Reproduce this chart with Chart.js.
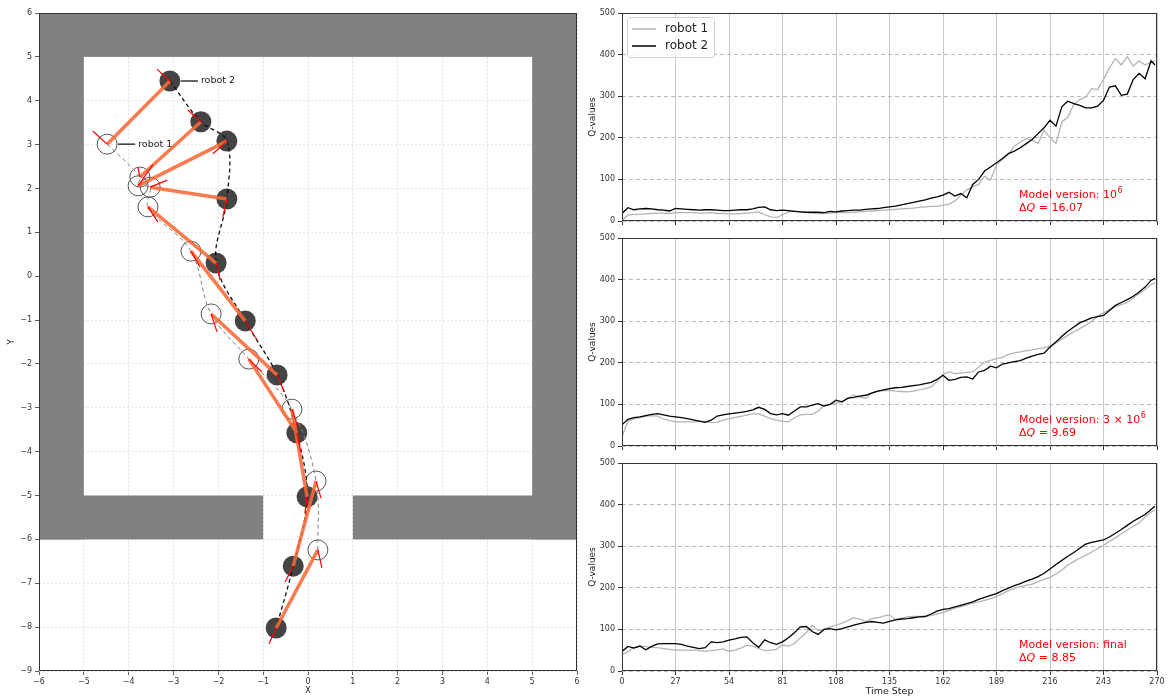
<!DOCTYPE html>
<html>
<head>
<meta charset="utf-8">
<script src="https://cdn.jsdelivr.net/npm/chart.js@4.4.0/dist/chart.umd.min.js"></script>
<style>
  body { margin: 0; background: #fff; }
  canvas { position: absolute; }
</style>
</head>
<body>
<canvas id="map" width="588" height="699" style="left:0;top:0"></canvas>
<canvas id="q1" width="590" height="230" style="left:580px;top:0"></canvas>
<canvas id="q2" width="590" height="225" style="left:580px;top:230px"></canvas>
<canvas id="q3" width="590" height="244" style="left:580px;top:455px"></canvas>
<script>
// ---- map data (metres) ----
const robot1X = [-4.48, -3.75, -3.79, -3.52, -3.57, -2.61, -2.16, -1.32, -0.36, 0.18, 0.22];
const robot1Y = [3.01, 2.26, 2.06, 2.03, 1.58, 0.57, -0.86, -1.89, -3.03, -4.67, -6.24];
const robot2X = [-3.08, -2.39, -1.81, -1.81, -2.05, -1.40, -0.69, -0.25, -0.02, -0.33, -0.71];
const robot2Y = [4.45, 3.52, 3.08, 1.76, 0.30, -1.02, -2.25, -3.57, -5.03, -6.61, -8.02];
// end points of the heading marks
const head1X = [-4.80, -3.79, -3.46, -3.14, -3.35, -2.41, -2.03, -1.03, -0.22, 0.29, 0.31];
const head1Y = [3.31, 2.47, 2.54, 2.19, 1.24, 0.21, -1.27, -2.18, -3.44, -5.06, -6.65];
const head2X = [-3.37, -2.68, -2.12, -1.90, -1.96, -1.14, -0.53, -0.16, -0.07, -0.51, -0.87];
const head2Y = [4.72, 3.79, 2.79, 1.35, -0.09, -1.45, -2.64, -4.01, -5.40, -6.97, -8.38];
// walls: [x0, y0, x1, y1]
const walls = [
    [-6, 5, 6, 6],
    [-6, -6, -5, 6],
    [5, -6, 6, 6],
    [-6, -6, -1, -5],
    [1, -6, 6, -5]
];

// ---- Q-value data, sampled every 3 time steps ----
const steps = Array.from({ length: 90 }, (_, i) => i * 3).concat([269]);

const q1Robot1 = [2, 14, 16, 16, 17, 18, 19, 19, 18, 20,
    20, 20, 20, 19, 19, 20, 18, 18, 17, 17,
    18, 19, 20, 22, 15, 10, 8, 15, 22, 25,
    22, 20, 19, 18, 18, 19, 20, 20, 20, 21,
    22, 23, 24, 25, 26, 27, 28, 29, 30, 31,
    33, 34, 35, 35, 38, 40, 48, 62, 75, 82,
    88, 108, 98, 135, 148, 160, 180, 190, 198, 195,
    186, 218, 200, 186, 238, 250, 280, 292, 298, 318,
    316, 340, 368, 390, 375, 395, 372, 385, 375, 382,
    385];
const q1Robot2 = [18, 32, 27, 29, 30, 29, 27, 26, 24, 30,
    29, 28, 27, 26, 27, 27, 26, 25, 25, 26,
    27, 27, 29, 33, 34, 27, 25, 26, 25, 23,
    22, 21, 21, 21, 20, 23, 22, 24, 25, 26,
    26, 28, 29, 30, 32, 34, 36, 39, 42, 45,
    48, 51, 55, 58, 62, 69, 60, 66, 56, 88,
    100, 120, 130, 140, 150, 162, 168, 176, 186, 196,
    210, 224, 242, 228, 275, 288, 282, 278, 272, 272,
    276, 290, 322, 325, 302, 305, 340, 355, 342, 385,
    375];

const q2Robot1 = [22, 60, 65, 68, 71, 73, 72, 65, 61, 58,
    58, 58, 58, 59, 59, 56, 57, 62, 65, 69,
    71, 74, 77, 77, 72, 66, 62, 59, 58, 68,
    75, 76, 76, 84, 98, 100, 103, 106, 114, 122,
    118, 114, 128, 131, 133, 134, 132, 131, 130, 132,
    135, 138, 142, 155, 172, 178, 174, 175, 177, 178,
    190, 202, 206, 210, 213, 220, 224, 226, 229, 231,
    234, 236, 240, 248, 257, 266, 274, 282, 290, 300,
    312, 320, 328, 335, 340, 345, 356, 366, 376, 388,
    393];
const q2Robot2 = [51, 64, 68, 70, 73, 76, 78, 75, 72, 70,
    68, 66, 63, 60, 57, 62, 72, 75, 77, 79,
    81, 83, 87, 93, 88, 78, 75, 78, 74, 84,
    94, 94, 98, 102, 96, 100, 110, 106, 115, 117,
    120, 122, 127, 132, 135, 138, 140, 141, 143, 145,
    147, 150, 153, 160, 170, 158, 160, 165, 166, 161,
    178, 182, 192, 188, 197, 200, 203, 205, 211, 216,
    220, 223, 238, 250, 264, 276, 286, 296, 302, 308,
    311, 314, 326, 338, 345, 352, 360, 370, 382, 398,
    403];

const q3Robot1 = [40, 46, 57, 59, 59, 57, 56, 54, 52, 50,
    50, 50, 50, 49, 47, 49, 51, 53, 47, 50,
    55, 62, 60, 54, 49, 50, 52, 63, 60, 66,
    80, 92, 110, 97, 100, 106, 110, 115, 121, 128,
    125, 119, 126, 128, 132, 135, 124, 127, 130, 131,
    131, 131, 134, 137, 141, 146, 151, 155, 159, 163,
    166, 170, 174, 179, 186, 193, 199, 203, 206, 209,
    215, 220, 225, 233, 243, 255, 263, 271, 278, 286,
    294, 302, 312, 320, 330, 339, 348, 356, 370, 382,
    387];
const q3Robot2 = [47, 59, 55, 60, 51, 59, 65, 66, 66, 66,
    64, 60, 57, 54, 56, 70, 68, 70, 74, 77,
    81, 82, 68, 57, 75, 68, 64, 70, 80, 92,
    106, 107, 95, 88, 100, 102, 99, 102, 106, 110,
    114, 117, 119, 117, 115, 119, 123, 125, 126, 128,
    130, 131, 137, 144, 148, 150, 154, 158, 162, 166,
    172, 177, 182, 186, 193, 199, 205, 210, 216, 221,
    227, 235, 245, 256, 266, 276, 285, 295, 305, 309,
    312, 315, 322, 331, 340, 350, 360, 368, 376, 388,
    396];

const FONT = "DejaVu Sans";
const minus = v => String(v).replace('-', '\u2212');
const toPoints = vals => vals.map((v, i) => ({ x: steps[i], y: v }));

// spines on all four sides
const frame = {
    id: 'frame',
    afterDraw(chart) {
        const { ctx, chartArea: a } = chart;
        ctx.save();
        ctx.strokeStyle = '#333';
        ctx.lineWidth = 1;
        ctx.strokeRect(a.left + 0.5, a.top + 0.5, a.width - 1, a.height - 1);
        ctx.restore();
    }
};

// axis titles
const axisTitles = {
    id: 'axisTitles',
    afterDraw(chart, args, opts) {
        const { ctx, chartArea: a } = chart;
        ctx.save();
        ctx.fillStyle = '#222';
        ctx.textAlign = 'center';
        ctx.textBaseline = 'middle';
        if (opts.x) {
            ctx.font = opts.x.size + 'px ' + FONT;
            ctx.fillText(opts.x.text, (a.left + a.right) / 2, opts.x.y);
        }
        if (opts.y) {
            ctx.font = opts.y.size + 'px ' + FONT;
            ctx.translate(opts.y.x, (a.top + a.bottom) / 2);
            ctx.rotate(-Math.PI / 2);
            ctx.fillText(opts.y.text, 0, 0);
        }
        ctx.restore();
    }
};

// grey walls of the room
const wallPlugin = {
    id: 'walls',
    beforeDatasetsDraw(chart) {
        const { ctx, scales: { x, y } } = chart;
        ctx.save();
        ctx.fillStyle = '#808080';
        walls.forEach(([x0, y0, x1, y1]) => {
            const l = x.getPixelForValue(x0), r = x.getPixelForValue(x1);
            const t = y.getPixelForValue(y1), b = y.getPixelForValue(y0);
            ctx.fillRect(l, t, r - l, b - t);
        });
        ctx.restore();
    }
};

// "robot 1" / "robot 2" tags
const robotTags = {
    id: 'robotTags',
    afterDatasetsDraw(chart) {
        const { ctx, scales: { x, y } } = chart;
        const tags = [['robot 1', robot1X[0], robot1Y[0]], ['robot 2', robot2X[0], robot2Y[0]]];
        ctx.save();
        ctx.font = '9.5px ' + FONT;
        ctx.textBaseline = 'middle';
        tags.forEach(([text, vx, vy]) => {
            const px = x.getPixelForValue(vx), py = y.getPixelForValue(vy);
            ctx.strokeStyle = '#333';
            ctx.lineWidth = 1.5;
            ctx.beginPath();
            ctx.moveTo(px + 11, py);
            ctx.lineTo(px + 28, py);
            ctx.stroke();
            ctx.fillStyle = '#222';
            ctx.fillText(text, px + 31, py);
        });
        ctx.restore();
    }
};

// matplotlib-like legend with line samples
const lineLegend = {
    id: 'lineLegend',
    afterDraw(chart, args, opts) {
        if (!opts.show) return;
        const { ctx, chartArea: a } = chart;
        const x0 = a.left + 5, y0 = a.top + 4;
        ctx.save();
        ctx.fillStyle = 'rgba(255,255,255,0.85)';
        ctx.strokeStyle = '#d0d0d0';
        ctx.lineWidth = 1;
        ctx.beginPath();
        ctx.roundRect(x0 + 0.5, y0 + 0.5, 87, 40, 3);
        ctx.fill();
        ctx.stroke();
        ctx.font = '12px ' + FONT;
        ctx.textBaseline = 'middle';
        const items = chart.data.datasets.slice().reverse();
        items.forEach((ds, i) => {
            const yy = y0 + 12 + i * 17;
            ctx.strokeStyle = ds.borderColor;
            ctx.lineWidth = 1.5;
            ctx.beginPath();
            ctx.moveTo(x0 + 5, yy);
            ctx.lineTo(x0 + 29, yy);
            ctx.stroke();
            ctx.fillStyle = '#222';
            ctx.fillText(ds.label, x0 + 38, yy);
        });
        ctx.restore();
    }
};

// red model version notes
const noteText = {
    id: 'noteText',
    afterDraw(chart, args, opts) {
        const { ctx, chartArea: a } = chart;
        const x0 = 439;
        ctx.save();
        ctx.fillStyle = '#ff0000';
        ctx.textBaseline = 'middle';
        ctx.font = '11px ' + FONT;
        const y1 = a.bottom - 26;
        ctx.fillText(opts.version, x0, y1);
        if (opts.sup) {
            const w = ctx.measureText(opts.version).width;
            ctx.font = '8px ' + FONT;
            ctx.fillText(opts.sup, x0 + w + 0.5, y1 - 4);
        }
        const y2 = a.bottom - 13;
        ctx.font = '11px ' + FONT;
        ctx.fillText('\u0394', x0, y2);
        let w = ctx.measureText('\u0394').width;
        ctx.font = 'italic 11px ' + FONT;
        ctx.fillText('Q', x0 + w, y2);
        w += ctx.measureText('Q').width;
        ctx.font = '11px ' + FONT;
        ctx.fillText(' = ' + opts.dq, x0 + w, y2);
        ctx.restore();
    }
};

// ---- left: map of the room ----
function segments(ax, ay, bx, by) {
    const out = [];
    ax.forEach((v, i) => {
        out.push({ x: ax[i], y: ay[i] }, { x: bx[i], y: by[i] }, { x: null, y: null });
    });
    return out;
}
const pts = (xs, ys) => xs.map((v, i) => ({ x: v, y: ys[i] }));

new Chart(document.getElementById('map'), {
    type: 'scatter',
    data: {
        datasets: [
            { data: segments(robot1X, robot1Y, head1X, head1Y).concat(segments(robot2X, robot2Y, head2X, head2Y)),
              showLine: true, spanGaps: false, borderColor: '#ff0000', borderWidth: 1.2, pointRadius: 0 },
            { data: segments(robot1X, robot1Y, robot2X, robot2Y),
              showLine: true, spanGaps: false, borderColor: 'rgba(250,105,55,0.88)', borderWidth: 3.5, pointRadius: 0 },
            { data: pts(robot2X, robot2Y), showLine: true, borderColor: '#111', borderWidth: 1.3,
              borderDash: [4, 3], tension: 0.35, pointRadius: 0 },
            { data: pts(robot1X, robot1Y), showLine: true, borderColor: '#808080', borderWidth: 1,
              borderDash: [4, 3], tension: 0.35, pointRadius: 0 },
            { data: pts(robot1X, robot1Y), pointRadius: 10, pointBackgroundColor: 'rgba(0,0,0,0)',
              pointBorderColor: '#555', pointBorderWidth: 1 },
            { data: pts(robot2X, robot2Y), pointRadius: 10.5, pointBackgroundColor: '#444',
              pointBorderColor: '#444', pointBorderWidth: 0 }
        ]
    },
    options: {
        responsive: false,
        animation: false,
        events: [],
        layout: { padding: { top: 13, right: 0, left: 0, bottom: 0 } },
        plugins: {
            legend: { display: false },
            tooltip: { enabled: false },
            axisTitles: { x: { text: 'X', y: 691, size: 8.5 }, y: { text: 'Y', x: 12, size: 8.5 } }
        },
        scales: {
            x: {
                type: 'linear', min: -6, max: 6,
                ticks: { stepSize: 1, autoSkip: false, maxRotation: 0, padding: 2, color: '#333',
                         font: { family: FONT, size: 8 }, callback: minus },
                grid: { color: '#dddddd', lineWidth: 0.8, tickLength: 4, tickColor: '#333' },
                border: { display: false, dash: [2, 2] },
                afterFit: s => { s.height = 28; s.paddingLeft = 0; s.paddingRight = 0; }
            },
            y: {
                type: 'linear', min: -9, max: 6,
                ticks: { stepSize: 1, autoSkip: false, padding: 3, color: '#333',
                         font: { family: FONT, size: 8 }, callback: minus },
                grid: { color: '#dddddd', lineWidth: 0.8, tickLength: 4, tickColor: '#333' },
                border: { display: false, dash: [2, 2] },
                afterFit: s => { s.width = 39; s.paddingTop = 0; s.paddingBottom = 0; }
            }
        }
    },
    plugins: [wallPlugin, robotTags, frame, axisTitles]
});

// ---- right: Q-value plots ----
function qChart(id, robot1, robot2, padTop, xHeight, showTicks, note) {
    new Chart(document.getElementById(id), {
        type: 'scatter',
        data: {
            datasets: [
                { label: 'robot 2', data: toPoints(robot2), showLine: true, borderColor: '#000',
                  borderWidth: 1.3, pointRadius: 0 },
                { label: 'robot 1', data: toPoints(robot1), showLine: true, borderColor: '#b4b4b4',
                  borderWidth: 1.3, pointRadius: 0 }
            ]
        },
        options: {
            responsive: false,
            animation: false,
            events: [],
            layout: { padding: { top: padTop, right: 13, left: 0, bottom: 0 } },
            plugins: {
                legend: { display: false },
                tooltip: { enabled: false },
                lineLegend: { show: id === 'q1' },
                noteText: note,
                axisTitles: {
                    y: { text: 'Q-values', x: 13, size: 9 },
                    x: showTicks ? { text: 'Time Step', y: 237, size: 9.5 } : null
                }
            },
            scales: {
                x: {
                    type: 'linear', min: 0, max: 270,
                    ticks: { stepSize: 27, display: showTicks, autoSkip: false, maxRotation: 0, padding: 2,
                             color: '#333', font: { family: FONT, size: 8 } },
                    grid: { color: '#c8c8c8', lineWidth: 1, tickLength: 4, tickColor: '#333' },
                    border: { display: false },
                    afterFit: s => { s.height = xHeight; s.paddingLeft = 0; s.paddingRight = 0; }
                },
                y: {
                    type: 'linear', min: 0, max: 500,
                    ticks: { stepSize: 100, padding: 3, color: '#333', font: { family: FONT, size: 8 } },
                    grid: { color: '#bbbbbb', lineWidth: 1, tickLength: 4, tickColor: '#333' },
                    border: { display: false, dash: [4, 3] },
                    afterFit: s => { s.width = 42; s.paddingTop = 0; s.paddingBottom = 0; }
                }
            }
        },
        plugins: [frame, lineLegend, noteText, axisTitles]
    });
}

qChart('q1', q1Robot1, q1Robot2, 13, 9, false, { version: 'Model version: 10', sup: '6', dq: '16.07' });
qChart('q2', q2Robot1, q2Robot2, 8, 9, false, { version: 'Model version: 3 \u00d7 10', sup: '6', dq: '9.69' });
qChart('q3', q3Robot1, q3Robot2, 8, 28, true, { version: 'Model version: final', sup: '', dq: '8.85' });
</script>
</body>
</html>
